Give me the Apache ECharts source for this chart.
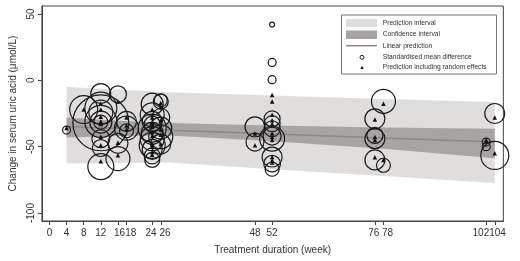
<!DOCTYPE html>
<html>
<head>
<meta charset="utf-8">
<script src="https://cdn.jsdelivr.net/npm/echarts@6/dist/echarts.min.js"></script>
<style>
  html, body { margin: 0; padding: 0; background: #fff; }
  #chart { width: 520px; height: 261px; }
</style>
</head>
<body>
<div id="chart"></div>
<script>
// tick labels
var xTicks = [0, 4, 8, 12, 16, 18, 24, 26, 48, 52, 76, 78, 102, 104];
var yTicks = [-100, -50, 0, 50];

// one entry per study: duration, observed SMD, prediction incl. random effects, weight
var studyWeek = [4, 8, 12, 12, 12, 12, 12, 12, 12, 12, 12, 12, 16, 16, 16, 18, 18, 18,
  24, 24, 24, 24, 24, 24, 24, 24, 24, 24, 24, 26, 26, 26, 26, 26, 26,
  48, 48, 52, 52, 52, 52, 52, 52, 52, 52, 52, 52, 52,
  78, 76, 76, 76, 76, 78, 102, 102, 104, 104];
var studySmd = [-37.5, -22, -10, -21, -24, -32, -31, -31.5, -31.5, -44, -51, -65, -10.5, -47.5, -59, -31, -36, -38,
  -18, -26, -31, -36, -40, -44, -49, -52, -57, -60, -33, -16, -15, -42.5, -48, -28, -36,
  -35, -46.5, 42, 13.5, 0.5, -29, -32.7, -36.5, -44, -42, -57.8, -62.8, -67,
  -15.8, -29, -41.5, -44, -60, -64, -46.5, -50, -25, -56.6];
var studyPred = [-36, -22, -17.5, -22, -27.5, -32.5, -31, -33, -31.5, -42.5, -49, -61, -16, -47, -56.5, -28, -34, -37,
  -22, -28, -32, -35, -39, -42, -48, -50, -54, -56, -33, -17, -20, -41, -48, -30, -37,
  -40, -49, -11, -16, -26, -30, -33, -40, -42.7, -45, -57.8, -60.3, -62,
  -17.6, -29.6, -42.7, -45, -58, -60, -45, -46, -28, -55];
var studyWeight = [1.6, 19.6, 10, 25.6, 14.4, 78.4, 25.6, 12.1, 4.9, 8.1, 7.2, 16.9, 7.2, 10, 14.4, 10, 14.4, 4.9,
  12.1, 14.4, 10, 19.6, 12.1, 14.4, 16.9, 10, 6.4, 5.6, 6.4, 5.6, 4.2, 14.4, 10, 8.1, 12.1,
  10, 8.1, 0.6, 1.6, 1.6, 6.4, 6.4, 6.4, 15.6, 8.1, 10, 6.9, 4.9,
  14.4, 10, 6.4, 10, 10, 4.9, 1.6, 1.6, 10, 19.6];

// meta-regression bands and line
var piWeeks = [4, 28, 52, 78, 104];
var piUpper = [-5, -9, -11.5, -14, -16.4];
var piLower = [-62.6, -62, -67, -72, -77.4];
var ciWeeks = [4, 16, 28, 52, 78, 104];
var ciUpper = [-28, -30.5, -32.2, -34, -35.5, -36.5];
var ciLower = [-43, -42, -41.5, -46, -51.5, -58.8];
var lineWeeks = [4, 104];
var linePred = [-34.8, -46.5];

var FONT = 'Liberation Sans';
// crowded tick labels run together in the printed figure; draw each pair as one label
var labelText = { 16: '', 18: '1618 ', 24: '', 26: '24 26  ', 76: '', 78: '76 78  ', 102: '', 104: '102104    ' };

var chart = echarts.init(document.getElementById('chart'));

function band(weeks, upper, lower, color) {
  return {
    type: 'custom',
    silent: true,
    z: 1,
    data: weeks.map(function (w, i) { return [w, upper[i], lower[i]]; }),
    encode: { x: 0, y: [1, 2] },
    renderItem: function (params, api) {
      if (params.dataIndex !== 0) return null;
      var pts = [];
      for (var i = 0; i < weeks.length; i++) pts.push(api.coord([weeks[i], upper[i]]));
      for (var j = weeks.length - 1; j >= 0; j--) pts.push(api.coord([weeks[j], lower[j]]));
      return { type: 'polygon', shape: { points: pts }, style: { fill: color } };
    }
  };
}

var legendX = 341.5, legendY = 15;
var legendRows = [23.3, 34.3, 45.7, 57.3, 67.3];
var legendLabels = ['Prediction interval', 'Confidence interval', 'Linear prediction',
  'Standardised mean difference', 'Prediction including random effects'];

var graphics = [
  { type: 'rect', shape: { x: legendX, y: legendY, width: 155, height: 59 },
    style: { fill: '#fff', stroke: '#777', lineWidth: 1 }, z: 10 },
  { type: 'rect', shape: { x: 346, y: 19, width: 31, height: 8 }, style: { fill: '#e0dddd' }, z: 11 },
  { type: 'rect', shape: { x: 346, y: 30.5, width: 31, height: 8.5 }, style: { fill: '#a8a4a4' }, z: 11 },
  { type: 'line', shape: { x1: 346, y1: 45.7, x2: 377, y2: 45.7 }, style: { stroke: '#8c8888', lineWidth: 1.5 }, z: 11 },
  { type: 'circle', shape: { cx: 362, cy: 57.3, r: 2 }, style: { fill: 'none', stroke: '#222', lineWidth: 1 }, z: 11 },
  { type: 'polygon', shape: { points: [[360.3, 69], [363.7, 69], [362, 65.8]] }, style: { fill: '#111' }, z: 11 }
];
legendLabels.forEach(function (t, i) {
  graphics.push({ type: 'text', x: 382.7, y: legendRows[i], z: 11,
    style: { text: t, fill: '#333', font: '6.7px "' + FONT + '"', verticalAlign: 'middle', align: 'left' } });
});

var option = {
  animation: false,
  grid: { left: 40.7, right: 13, top: 6, bottom: 40, show: true, borderColor: '#444', borderWidth: 1 },
  xAxis: {
    type: 'value', min: -1.76, max: 106,
    splitLine: { show: false },
    axisLine: { show: true, onZero: false, lineStyle: { color: '#444' } },
    axisTick: { show: true, customValues: xTicks, length: 4, lineStyle: { color: '#444' } },
    axisLabel: {
      customValues: xTicks, fontSize: 10, color: '#333', margin: 7, fontFamily: FONT,
      hideOverlap: false, showMinLabel: true, showMaxLabel: true,
      formatter: function (v) { return (v in labelText) ? labelText[v] : String(v); }
    },
    name: 'Treatment duration (week)', nameLocation: 'middle', nameGap: 24,
    nameTextStyle: { fontSize: 10, color: '#333', fontFamily: FONT }
  },
  yAxis: {
    type: 'value', min: -106, max: 56,
    splitLine: { show: false },
    axisLine: { show: true, onZero: false, lineStyle: { color: '#444' } },
    axisTick: { show: true, customValues: yTicks, length: 4, lineStyle: { color: '#444' } },
    axisLabel: { customValues: yTicks, rotate: 90, fontSize: 10, color: '#333', margin: 6, fontFamily: FONT },
    name: 'Change in serum uric acid (μmol/L)', nameLocation: 'middle', nameGap: 23,
    nameTextStyle: { fontSize: 10, color: '#333', fontFamily: FONT }
  },
  graphic: graphics,
  series: [
    band(piWeeks, piUpper, piLower, '#e0dddd'),
    band(ciWeeks, ciUpper, ciLower, '#a8a4a4'),
    {
      type: 'line', z: 2, silent: true, symbol: 'none',
      data: lineWeeks.map(function (w, i) { return [w, linePred[i]]; }),
      lineStyle: { color: '#8c8888', width: 1.5 }
    },
    {
      type: 'scatter', z: 3, silent: true, symbol: 'circle',
      data: studyWeek.map(function (w, i) { return [w, studySmd[i], studyWeight[i]]; }),
      symbolSize: function (v) { return 6.32 * Math.sqrt(v[2]); },
      itemStyle: { color: 'rgba(0,0,0,0)', borderColor: '#1a1a1a', borderWidth: 1.2, opacity: 1 }
    },
    {
      type: 'scatter', z: 4, silent: true, symbol: 'triangle', symbolSize: 4.5,
      data: studyWeek.map(function (w, i) { return [w, studyPred[i]]; }),
      itemStyle: { color: '#111', opacity: 1 }
    }
  ]
};
chart.setOption(option);
</script>
</body>
</html>
